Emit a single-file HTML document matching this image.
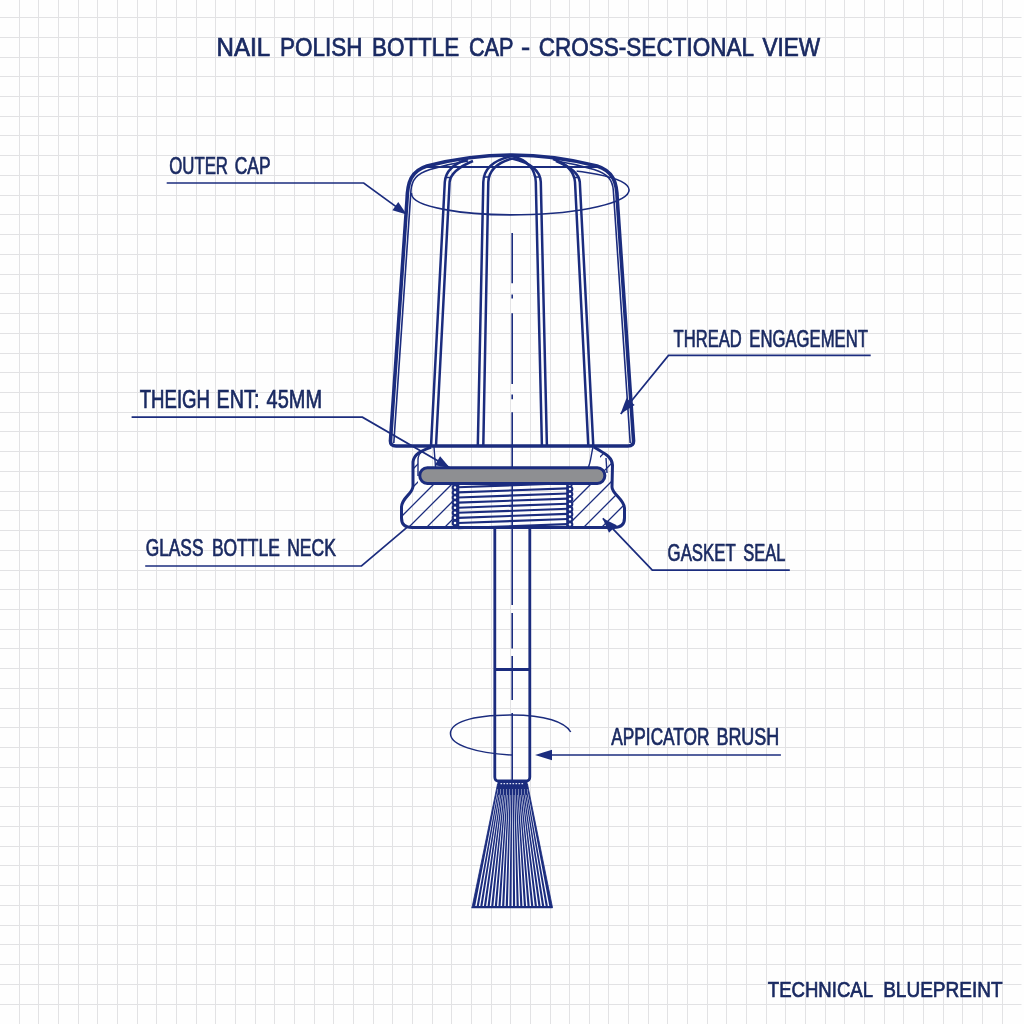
<!DOCTYPE html>
<html><head><meta charset="utf-8"><style>
html,body{margin:0;padding:0;background:#fefefe;}
svg{display:block;font-family:"Liberation Sans",sans-serif;will-change:transform;}
</style></head><body>
<svg width="1024" height="1024" viewBox="0 0 1024 1024">
<rect width="1024" height="1024" fill="#fefefe"/>
<path d="M19.50 0V1024 M38.50 0V1024 M58.50 0V1024 M78.50 0V1024 M97.50 0V1024 M117.50 0V1024 M137.50 0V1024 M156.50 0V1024 M176.50 0V1024 M196.50 0V1024 M215.50 0V1024 M235.50 0V1024 M255.50 0V1024 M274.50 0V1024 M294.50 0V1024 M314.50 0V1024 M333.50 0V1024 M353.50 0V1024 M373.50 0V1024 M392.50 0V1024 M412.50 0V1024 M432.50 0V1024 M451.50 0V1024 M471.50 0V1024 M491.50 0V1024 M510.50 0V1024 M530.50 0V1024 M550.50 0V1024 M569.50 0V1024 M589.50 0V1024 M608.50 0V1024 M628.50 0V1024 M648.50 0V1024 M667.50 0V1024 M687.50 0V1024 M707.50 0V1024 M726.50 0V1024 M746.50 0V1024 M766.50 0V1024 M785.50 0V1024 M805.50 0V1024 M825.50 0V1024 M844.50 0V1024 M864.50 0V1024 M884.50 0V1024 M903.50 0V1024 M923.50 0V1024 M943.50 0V1024 M962.50 0V1024 M982.50 0V1024 M1002.50 0V1024 M0 17.50H1021.5 M0 37.50H1021.5 M0 57.50H1021.5 M0 76.50H1021.5 M0 96.50H1021.5 M0 116.50H1021.5 M0 135.50H1021.5 M0 155.50H1021.5 M0 175.50H1021.5 M0 195.50H1021.5 M0 214.50H1021.5 M0 234.50H1021.5 M0 254.50H1021.5 M0 274.50H1021.5 M0 293.50H1021.5 M0 313.50H1021.5 M0 333.50H1021.5 M0 353.50H1021.5 M0 372.50H1021.5 M0 392.50H1021.5 M0 412.50H1021.5 M0 431.50H1021.5 M0 451.50H1021.5 M0 471.50H1021.5 M0 491.50H1021.5 M0 510.50H1021.5 M0 530.50H1021.5 M0 550.50H1021.5 M0 570.50H1021.5 M0 589.50H1021.5 M0 609.50H1021.5 M0 629.50H1021.5 M0 648.50H1021.5 M0 668.50H1021.5 M0 688.50H1021.5 M0 708.50H1021.5 M0 727.50H1021.5 M0 747.50H1021.5 M0 767.50H1021.5 M0 787.50H1021.5 M0 806.50H1021.5 M0 826.50H1021.5 M0 846.50H1021.5 M0 865.50H1021.5 M0 885.50H1021.5 M0 905.50H1021.5 M0 925.50H1021.5 M0 944.50H1021.5 M0 964.50H1021.5 M0 984.50H1021.5 M0 1004.50H1021.5" stroke="#e2e2e4" stroke-width="1.0" fill="none"/>
<text x="216.60" y="55.60" font-size="25.44" textLength="53.60" lengthAdjust="spacingAndGlyphs" fill="#1a2a62" stroke="#1a2a62" stroke-width="0.7">NAIL</text>
<text x="280.00" y="55.60" font-size="25.44" textLength="82.50" lengthAdjust="spacingAndGlyphs" fill="#1a2a62" stroke="#1a2a62" stroke-width="0.7">POLISH</text>
<text x="371.90" y="55.60" font-size="25.44" textLength="87.40" lengthAdjust="spacingAndGlyphs" fill="#1a2a62" stroke="#1a2a62" stroke-width="0.7">BOTTLE</text>
<text x="468.90" y="55.60" font-size="25.44" textLength="44.60" lengthAdjust="spacingAndGlyphs" fill="#1a2a62" stroke="#1a2a62" stroke-width="0.7">CAP</text>
<text x="521.00" y="55.60" font-size="26.60" textLength="9.20" lengthAdjust="spacingAndGlyphs" fill="#1a2a62" stroke="#1a2a62" stroke-width="0.7">-</text>
<text x="538.70" y="55.60" font-size="25.44" textLength="215.40" lengthAdjust="spacingAndGlyphs" fill="#1a2a62" stroke="#1a2a62" stroke-width="0.7">CROSS-SECTIONAL</text>
<text x="762.40" y="55.60" font-size="25.44" textLength="57.80" lengthAdjust="spacingAndGlyphs" fill="#1a2a62" stroke="#1a2a62" stroke-width="0.7">VIEW</text>
<text x="767.80" y="996.90" font-size="22.67" textLength="105.20" lengthAdjust="spacingAndGlyphs" fill="#1a2a62" stroke="#1a2a62" stroke-width="0.7">TECHNICAL</text>
<text x="883.20" y="996.90" font-size="22.67" textLength="119.30" lengthAdjust="spacingAndGlyphs" fill="#1a2a62" stroke="#1a2a62" stroke-width="0.7">BLUEPREINT</text>
<text x="169.20" y="173.60" font-size="24.71" textLength="58.80" lengthAdjust="spacingAndGlyphs" fill="#1a2a62" stroke="#1a2a62" stroke-width="0.7">OUTER</text>
<text x="234.80" y="173.60" font-size="24.71" textLength="35.80" lengthAdjust="spacingAndGlyphs" fill="#1a2a62" stroke="#1a2a62" stroke-width="0.7">CAP</text>
<text x="139.70" y="407.90" font-size="25.00" textLength="70.30" lengthAdjust="spacingAndGlyphs" fill="#1a2a62" stroke="#1a2a62" stroke-width="0.7">THEIGH</text>
<text x="216.60" y="407.90" font-size="25.00" textLength="42.80" lengthAdjust="spacingAndGlyphs" fill="#1a2a62" stroke="#1a2a62" stroke-width="0.7">ENT:</text>
<text x="266.60" y="407.90" font-size="25.00" textLength="55.40" lengthAdjust="spacingAndGlyphs" fill="#1a2a62" stroke="#1a2a62" stroke-width="0.7">45MM</text>
<text x="145.70" y="556.10" font-size="23.55" textLength="57.80" lengthAdjust="spacingAndGlyphs" fill="#1a2a62" stroke="#1a2a62" stroke-width="0.7">GLASS</text>
<text x="211.90" y="556.10" font-size="23.55" textLength="67.90" lengthAdjust="spacingAndGlyphs" fill="#1a2a62" stroke="#1a2a62" stroke-width="0.7">BOTTLE</text>
<text x="287.20" y="556.10" font-size="23.55" textLength="48.70" lengthAdjust="spacingAndGlyphs" fill="#1a2a62" stroke="#1a2a62" stroke-width="0.7">NECK</text>
<text x="673.60" y="346.50" font-size="23.69" textLength="68.10" lengthAdjust="spacingAndGlyphs" fill="#1a2a62" stroke="#1a2a62" stroke-width="0.7">THREAD</text>
<text x="749.30" y="346.50" font-size="23.69" textLength="118.70" lengthAdjust="spacingAndGlyphs" fill="#1a2a62" stroke="#1a2a62" stroke-width="0.7">ENGAGEMENT</text>
<text x="667.60" y="560.90" font-size="23.69" textLength="68.10" lengthAdjust="spacingAndGlyphs" fill="#1a2a62" stroke="#1a2a62" stroke-width="0.7">GASKET</text>
<text x="743.20" y="560.90" font-size="23.69" textLength="42.20" lengthAdjust="spacingAndGlyphs" fill="#1a2a62" stroke="#1a2a62" stroke-width="0.7">SEAL</text>
<text x="611.30" y="745.20" font-size="23.98" textLength="98.20" lengthAdjust="spacingAndGlyphs" fill="#1a2a62" stroke="#1a2a62" stroke-width="0.7">APPICATOR</text>
<text x="716.40" y="745.20" font-size="23.98" textLength="62.90" lengthAdjust="spacingAndGlyphs" fill="#1a2a62" stroke="#1a2a62" stroke-width="0.7">BRUSH</text>
<path d="M166.7 183H363.7L406.7 214.4" stroke="#1b2c7e" stroke-width="1.7" fill="none"/>
<path d="M131.6 417.2H362.4L449.8 467.8" stroke="#1b2c7e" stroke-width="1.7" fill="none"/>
<path d="M145.2 566H361.5L407 527.3" stroke="#1b2c7e" stroke-width="1.7" fill="none"/>
<path d="M870.7 355.4H668.5L620.8 414" stroke="#1b2c7e" stroke-width="1.7" fill="none"/>
<path d="M789.8 570.2H652.3L602.9 518.3" stroke="#1b2c7e" stroke-width="1.7" fill="none"/>
<path d="M780.9 755H540" stroke="#1b2c7e" stroke-width="1.7" fill="none"/>
<clipPath id="ec"><path d="M0 0H1024V1024H0Z M380 0H577V191H380Z" clip-rule="evenodd"/></clipPath>
<ellipse clip-path="url(#ec)" cx="520.3" cy="191.8" rx="108.8" ry="23" transform="rotate(-1 520.3 191.8)" stroke="#1b2c7e" stroke-width="1.6" fill="none"/>
<path d="M390.5 440 L407 200 C407.5 182 411 171 427 166 Q512 144 597 166 C613 171 617 182 617.3 200 L633.5 440 Q634 446 628 446 L396 446 Q390 446 390.5 440 Z" stroke="#1b2c7e" stroke-width="3.6" fill="none" stroke-linejoin="round"/>
<path d="M393.8 443 L411 190 C412 180 416 174 430 169.5 Q448 164 468 161 M630.2 443 L613.3 190 C612.5 180 608 174 594 169.5 Q576 164 556 161" stroke="#1b2c7e" stroke-width="1.6" fill="none"/>
<path d="M426 167H597" stroke="#1b2c7e" stroke-width="2.2" fill="none"/>
<path d="M445 177.5H450 M483.5 177H488.5 M535.5 177H540.5 M574.5 177.5H579.5" stroke="#1b2c7e" stroke-width="1.5"/>
<path d="M431 446 L444.8 182 Q446 166 468 159" stroke="#1b2c7e" stroke-width="2.5" fill="none"/>
<path d="M436 446 L449.6 182 Q451 170 473 161" stroke="#1b2c7e" stroke-width="2.5" fill="none"/>
<path d="M477.8 446 L483.3 182 Q484 162 512 156" stroke="#1b2c7e" stroke-width="2.5" fill="none"/>
<path d="M483.3 446 L488.3 182 Q489 165 512 158.5" stroke="#1b2c7e" stroke-width="2.5" fill="none"/>
<path d="M541.9 446 L535.8 182 Q535 162 512 156" stroke="#1b2c7e" stroke-width="2.5" fill="none"/>
<path d="M546.9 446 L540.8 182 Q540 165 512 158.5" stroke="#1b2c7e" stroke-width="2.5" fill="none"/>
<path d="M588.3 446 L575 182 Q573.5 166 553 159" stroke="#1b2c7e" stroke-width="2.5" fill="none"/>
<path d="M593.3 446 L579.8 182 Q578.5 170 556 161" stroke="#1b2c7e" stroke-width="2.5" fill="none"/>
<path d="M512.2 232.9V283.3 M512.2 294.5V298.5 M512.2 313.3V384 M512.2 394.6V399.3 M512.2 412.2V605 M512.2 613V648.5 M512.2 656V700 M512.2 713V780" stroke="#1b2c7e" stroke-width="1.6" fill="none"/>
<path d="M431 447 C424 450 414 453 413 462 L413 486 C413 494 402 497 401.5 507 L401.5 518 C401.5 524 405 527.5 412 527.5 L614 527.5 C621 527.5 624.5 524 624.5 518 L624.5 508 C624 499 612 494 612 487 L612.5 465 C612 456 603 453 594 447" stroke="#1b2c7e" stroke-width="3" fill="none" stroke-linejoin="round"/>
<path d="M430 447 C423 450 418 453 418 460 L418 476 M434 447 L435.5 467 M593 447 C591 455 591 462 588 468 M606 458 L607 473" stroke="#1b2c7e" stroke-width="1.4" fill="none"/>
<clipPath id="hc"><path d="M413 462 L413 487 C413 494 402 500 401.5 510 L401.5 516 C402 523 405 527.5 413 527.5 L455 527.5 L455 485 L418 485 L418 462Z M569 527.5 L613 527.5 C621 527.5 624.5 522 624.5 515 L624 509 C623 500 612 495 612 488 L612.5 465 C612 457 605 454 600 452 L600 485 L569 485 Z"/></clipPath>
<path d="M342 540L442 440 M360 540L460 440 M378 540L478 440 M396 540L496 440 M414 540L514 440 M432 540L532 440 M517 540L617 440 M535 540L635 440 M553 540L653 440 M571 540L671 440 M589 540L689 440 M607 540L707 440" stroke="#1b2c7e" stroke-width="1.3" fill="none" clip-path="url(#hc)"/>
<path d="M458 487.3L567.5 483.3 M458 492.4L567.5 488.4 M458 497.5L567.5 493.5 M458 502.6L567.5 498.6 M458 507.7L567.5 503.7 M458 512.8L567.5 508.8 M458 517.9L567.5 513.9 M458 523.0L567.5 519.0 M458 528.1L567.5 524.1" stroke="#1b2c7e" stroke-width="2.1" fill="none"/>
<path d="M458 485V527.5 M567.5 485V527.5" stroke="#1b2c7e" stroke-width="2.6" fill="none"/>
<circle cx="455" cy="487.5" r="2.3" fill="#fff" stroke="#1b2c7e" stroke-width="2.1"/><circle cx="570" cy="489.0" r="2.3" fill="#fff" stroke="#1b2c7e" stroke-width="2.1"/><circle cx="455" cy="492.6" r="2.3" fill="#fff" stroke="#1b2c7e" stroke-width="2.1"/><circle cx="570" cy="494.1" r="2.3" fill="#fff" stroke="#1b2c7e" stroke-width="2.1"/><circle cx="455" cy="497.6" r="2.3" fill="#fff" stroke="#1b2c7e" stroke-width="2.1"/><circle cx="570" cy="499.1" r="2.3" fill="#fff" stroke="#1b2c7e" stroke-width="2.1"/><circle cx="455" cy="502.6" r="2.3" fill="#fff" stroke="#1b2c7e" stroke-width="2.1"/><circle cx="570" cy="504.1" r="2.3" fill="#fff" stroke="#1b2c7e" stroke-width="2.1"/><circle cx="455" cy="507.7" r="2.3" fill="#fff" stroke="#1b2c7e" stroke-width="2.1"/><circle cx="570" cy="509.2" r="2.3" fill="#fff" stroke="#1b2c7e" stroke-width="2.1"/><circle cx="455" cy="512.8" r="2.3" fill="#fff" stroke="#1b2c7e" stroke-width="2.1"/><circle cx="570" cy="514.2" r="2.3" fill="#fff" stroke="#1b2c7e" stroke-width="2.1"/><circle cx="455" cy="517.8" r="2.3" fill="#fff" stroke="#1b2c7e" stroke-width="2.1"/><circle cx="570" cy="519.3" r="2.3" fill="#fff" stroke="#1b2c7e" stroke-width="2.1"/><circle cx="455" cy="522.9" r="2.3" fill="#fff" stroke="#1b2c7e" stroke-width="2.1"/><circle cx="570" cy="524.4" r="2.3" fill="#fff" stroke="#1b2c7e" stroke-width="2.1"/>
<rect x="419.8" y="467.8" width="185" height="15.6" rx="7.5" fill="#8e8f92" stroke="#1b2c7e" stroke-width="3"/>
<path d="M494.8 527.5 V777 Q494.8 781 498.5 781 H526 Q529.8 781 529.8 777 V527.5 M494.8 669.5 H529.8" stroke="#1b2c7e" stroke-width="2.8" fill="none"/>
<path d="M570.7 732 C565 722 545 715 512 715 C470 715 450 723 450.5 734 C451 745 475 753 512 755" stroke="#1b2c7e" stroke-width="1.5" fill="none"/>
<rect x="497.5" y="780.5" width="30" height="5" fill="#1b2c7e"/>
<path d="M497.5 784 L527.5 784 L552.5 907.5 L472 907.5 Z" fill="#1b2c7e" stroke="#1b2c7e" stroke-width="0.8" stroke-linejoin="round"/>
<path d="M497.72 789L498.12 789L476.66 906L475.22 906Z M498.16 795L498.56 795L480.29 906L478.85 906Z M500.64 789L501.04 789L483.92 906L482.48 906Z M501.30 795L501.70 795L487.55 906L486.11 906Z M503.55 789L503.95 789L491.19 906L489.75 906Z M504.44 795L504.84 795L494.82 906L493.38 906Z M506.46 789L506.86 789L498.45 906L497.01 906Z M507.57 795L507.97 795L502.08 906L500.64 906Z M509.38 789L509.78 789L505.71 906L504.27 906Z M510.71 795L511.11 795L509.34 906L507.90 906Z M512.29 789L512.69 789L512.97 906L511.53 906Z M513.85 795L514.25 795L516.60 906L515.16 906Z M515.20 789L515.60 789L520.24 906L518.80 906Z M516.98 795L517.38 795L523.87 906L522.43 906Z M518.12 789L518.52 789L527.50 906L526.06 906Z M520.12 795L520.52 795L531.13 906L529.69 906Z M521.03 789L521.43 789L534.76 906L533.32 906Z M523.25 795L523.65 795L538.39 906L536.95 906Z M523.94 789L524.34 789L542.02 906L540.58 906Z M526.39 795L526.79 795L545.65 906L544.21 906Z M526.86 789L527.26 789L549.29 906L547.85 906Z" fill="#fbfcff"/>
<path d="M471.5 907.5H552.5" stroke="#1b2c7e" stroke-width="1.4" fill="none"/>
<path d="M500.5 783.6H524" stroke="#dfe3f5" stroke-width="1.1" stroke-dasharray="1.6 1.4" fill="none"/>
<path d="M406.7 214.4L392.4 210.2L398.3 202.1Z" fill="#1b2c7e"/>
<path d="M450.0 468.0L434.8 465.2L440.1 456.2Z" fill="#1b2c7e"/>
<path d="M620.4 414.1L626.4 398.3L634.7 405.1Z" fill="#1b2c7e"/>
<path d="M602.5 518.2L616.8 525.3L609.0 532.8Z" fill="#1b2c7e"/>
<path d="M535.0 755.0L552.0 749.8L552.0 760.2Z" fill="#1b2c7e"/>
</svg></body></html>
